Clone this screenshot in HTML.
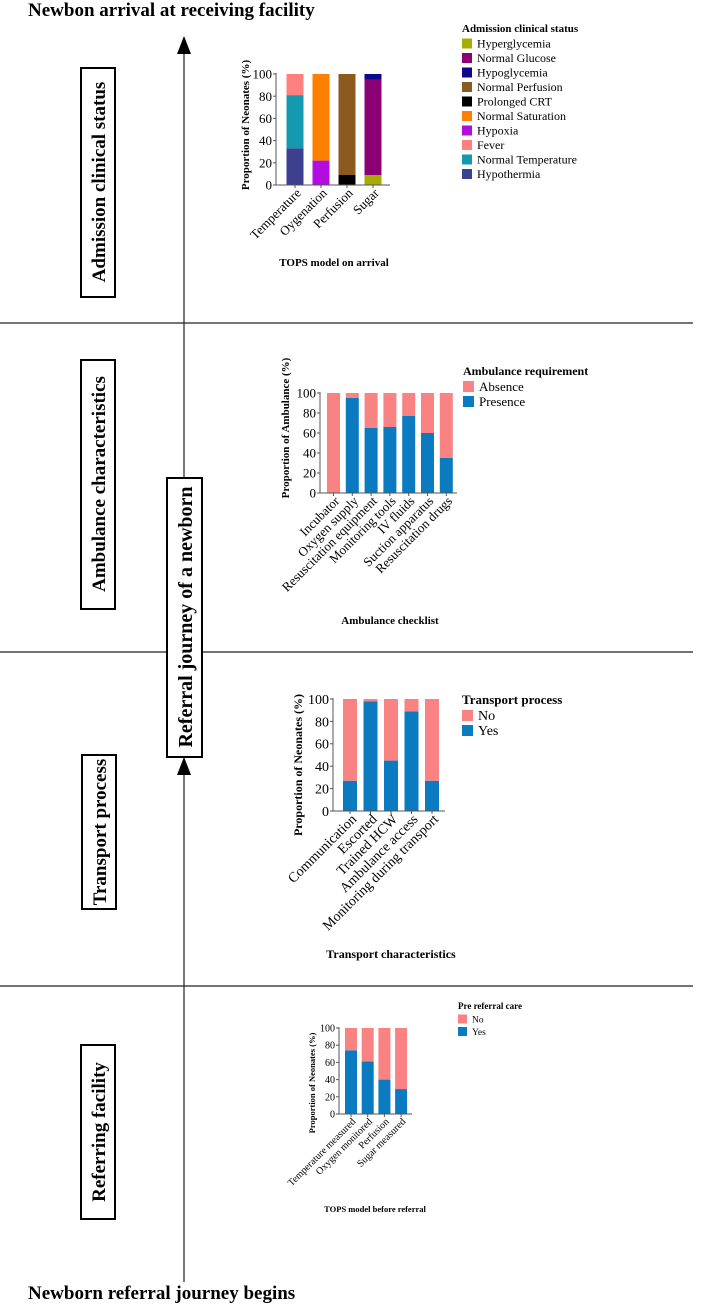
<!DOCTYPE html>
<html><head><meta charset="utf-8"><style>
html,body{margin:0;padding:0;background:#fff}
svg{display:block;font-family:"Liberation Serif",serif}
</style></head><body>
<svg id="s" width="707" height="1305" viewBox="0 0 707 1305" xmlns="http://www.w3.org/2000/svg">
<text x="28" y="16" font-size="19" font-weight="bold">Newbon arrival at receiving facility</text>
<text x="28" y="1299" font-size="19" font-weight="bold">Newborn referral journey begins</text>
<line x1="184" y1="50" x2="184" y2="1282" stroke="#333" stroke-width="1.3"/>
<polygon points="184,36 177,54 191,54" fill="#000"/>
<polygon points="184,757 177,775 191,775" fill="#000"/>
<line x1="0" y1="323" x2="693" y2="323" stroke="#222" stroke-width="1.2"/>
<line x1="0" y1="652" x2="693" y2="652" stroke="#222" stroke-width="1.2"/>
<line x1="0" y1="986" x2="693" y2="986" stroke="#222" stroke-width="1.2"/>
<g><rect x="81" y="68" width="34" height="229" fill="#fff" stroke="#000" stroke-width="2"/><text transform="translate(105,182) rotate(-90)" text-anchor="middle" font-size="19" font-weight="bold">Admission clinical status</text></g>
<g><rect x="81" y="360" width="34" height="249" fill="#fff" stroke="#000" stroke-width="2"/><text transform="translate(105,484) rotate(-90)" text-anchor="middle" font-size="19" font-weight="bold">Ambulance characteristics</text></g>
<g><rect x="82" y="755" width="34" height="154" fill="#fff" stroke="#000" stroke-width="2"/><text transform="translate(106,832) rotate(-90)" text-anchor="middle" font-size="19" font-weight="bold">Transport process</text></g>
<g><rect x="81" y="1045" width="34" height="174" fill="#fff" stroke="#000" stroke-width="2"/><text transform="translate(105,1132) rotate(-90)" text-anchor="middle" font-size="19" font-weight="bold">Referring facility</text></g>
<g><rect x="167" y="478" width="35" height="279" fill="#fff" stroke="#000" stroke-width="2"/><text transform="translate(192,617) rotate(-90)" text-anchor="middle" font-size="20" font-weight="bold">Referral journey of a newborn</text></g>
<g id="charts"></g>
</svg>
<script>
// Chart 1: admission clinical status
const c1Categories = ["Temperature","Oygenation","Perfusion","Sugar"];
const c1Series = ["Hypothermia","Normal Temperature","Fever","Hypoxia","Normal Saturation","Prolonged CRT","Normal Perfusion","Hyperglycemia","Normal Glucose","Hypoglycemia"];
const c1Colors = ["#3d3f8f","#1499b0","#fe8080","#b20ce0","#fe8000","#000000","#8b5a1e","#a8ab00","#8b0073","#0a0a8a"];
const c1Values = [
  [33,0,0,0],[48,0,0,0],[19,0,0,0],
  [0,22,0,0],[0,78,0,0],
  [0,0,9,0],[0,0,91,0],
  [0,0,0,9],[0,0,0,86],[0,0,0,5]];
const c1Legend = ["Hyperglycemia","Normal Glucose","Hypoglycemia","Normal Perfusion","Prolonged CRT","Normal Saturation","Hypoxia","Fever","Normal Temperature","Hypothermia"];
// Chart 2: ambulance checklist
const c2Categories = ["Incubator","Oxygen supply","Resuscitation equipment","Monitoring tools","IV fluids","Suction apparatus","Resuscitation drugs"];
const c2Presence = [0,95,65,66,77,60,35];
// Chart 3: transport
const c3Categories = ["Communication","Escorted","Trained HCW","Ambulance access","Monitoring during transport"];
const c3Yes = [27,98,45,89,27];
// Chart 4: pre referral
const c4Categories = ["Temperature measured","Oxygen monitored","Perfusion","Sugar measured"];
const c4Yes = [74,61,40,29];
const yTicks = [0,20,40,60,80,100];

const NS="http://www.w3.org/2000/svg";
const root=document.getElementById('charts');
function mk(tag,attrs,parent,text){const e=document.createElementNS(NS,tag);for(const k in attrs)e.setAttribute(k,attrs[k]);if(text!==undefined)e.textContent=text;parent.appendChild(e);return e;}

function chart(o){
  const g=mk('g',{},root);
  
  
  const ys=v=>o.y0-(o.y0-o.y100)*v/100;
  const n=o.cats.length;
  const cx=i=>o.first+i*o.step;
  // bars
  o.series.forEach((vals,si)=>{
    vals.forEach((v,i)=>{
      if(v<=0)return;
      let base=0;for(let k=0;k<si;k++)base+=o.series[k][i];
      const r=mk('rect',{x:cx(i)-o.bw/2,y:ys(base+v),width:o.bw,height:ys(base)-ys(base+v),fill:o.colors[si]},g);
      
      
    });
  });
  // axes
  const ya=mk('line',{x1:o.x0,y1:o.y100-1,x2:o.x0,y2:o.y0,stroke:'#555','stroke-width':1},g);
  
  
  const xa=mk('line',{x1:o.x0,y1:o.y0,x2:o.xEnd,y2:o.y0,stroke:'#555','stroke-width':1},g);
  
  
  yTicks.forEach(t=>{
    mk('line',{x1:o.x0-3,y1:ys(t),x2:o.x0,y2:ys(t),stroke:'#555'},g);
    const tl=mk('text',{x:o.x0-4,y:ys(t)+o.fs*0.35,'text-anchor':'end','font-size':o.fs},g,String(t));
    
    
  });
  o.cats.forEach((c,i)=>{
    mk('line',{x1:cx(i),y1:o.y0,x2:cx(i),y2:o.y0+3,stroke:'#555'},g);
    const x=cx(i)+o.fs*0.3,y=o.y0+6;
    const tl=mk('text',{transform:`translate(${x},${y}) rotate(-45)`,'text-anchor':'end','font-size':o.fs,dy:o.fs*0.3},g,c);
    
    
  });
  const yt=mk('text',{transform:`translate(${o.ytx},${o.yty}) rotate(-90)`,'text-anchor':'middle','font-size':o.tfs,'font-weight':'bold'},g,o.ytitle);
  
  
  const xt=mk('text',{x:o.xtx,y:o.xty,'text-anchor':'middle','font-size':o.tfs,'font-weight':'bold'},g,o.xtitle);
  
  
  // legend
  const lt=mk('text',{x:o.lx,y:o.ly,'font-size':o.lfs,'font-weight':'bold'},g,o.ltitle);
  
  
  o.legend.forEach((l,i)=>{
    const y=o.ly+o.lgap*(i+1);
    const si=o.snames.indexOf(l);
    const sw=mk('rect',{x:o.lx,y:y-o.sw+2,width:o.sw,height:o.sw,fill:o.colors[si]},g);
    
    
    const t=mk('text',{x:o.lx+o.sw+5,y:y+1,'font-size':o.lfs2},g,l);
    
    
  });
}

chart({name:'chart-admission-status',cats:c1Categories,series:c1Values,snames:c1Series,colors:c1Colors,
  x0:276,xEnd:390,y0:185,y100:74,first:295,step:26,bw:17,fs:13,tfs:11,
  ytitle:'Proportion of Neonates (%)',ytx:249,yty:125,xtitle:'TOPS model on arrival',xtx:334,xty:266,
  ltitle:'Admission clinical status',lx:462,ly:32,lgap:14.5,lfs:11,lfs2:12,sw:10,legend:c1Legend});

chart({name:'chart-ambulance-checklist',cats:c2Categories,
  series:[c2Presence,c2Presence.map(v=>100-v)],snames:['Presence','Absence'],colors:['#0a7bc0','#f98283'],
  x0:320,xEnd:457,y0:493,y100:393,first:333.5,step:18.8,bw:13,fs:13,tfs:11,
  ytitle:'Proportion of Ambulance (%)',ytx:289,yty:428,xtitle:'Ambulance checklist',xtx:390,xty:624,
  ltitle:'Ambulance requirement',lx:463,ly:375,lgap:15,lfs:12,lfs2:13,sw:11,legend:['Absence','Presence']});

chart({name:'chart-transport-process',cats:c3Categories,
  series:[c3Yes,c3Yes.map(v=>100-v)],snames:['Yes','No'],colors:['#0a7bc0','#f98283'],
  x0:333,xEnd:445,y0:811,y100:699,first:350,step:20.5,bw:14,fs:14,tfs:12,
  ytitle:'Proportion of Neonates (%)',ytx:302,yty:765,xtitle:'Transport characteristics',xtx:391,xty:958,
  ltitle:'Transport process',lx:462,ly:704,lgap:15,lfs:13,lfs2:14,sw:11,legend:['No','Yes']});

chart({name:'chart-pre-referral-care',cats:c4Categories,
  series:[c4Yes,c4Yes.map(v=>100-v)],snames:['Yes','No'],colors:['#0a7bc0','#f98283'],
  x0:339,xEnd:412,y0:1114,y100:1028,first:351,step:16.7,bw:12,fs:10,tfs:8.5,
  ytitle:'Proportion of Neonates (%)',ytx:315,yty:1083,xtitle:'TOPS model before referral',xtx:375,xty:1212,
  ltitle:'Pre referral care',lx:458,ly:1009,lgap:12.5,lfs:9,lfs2:9.5,sw:9,legend:['No','Yes']});
</script>
</body></html>
